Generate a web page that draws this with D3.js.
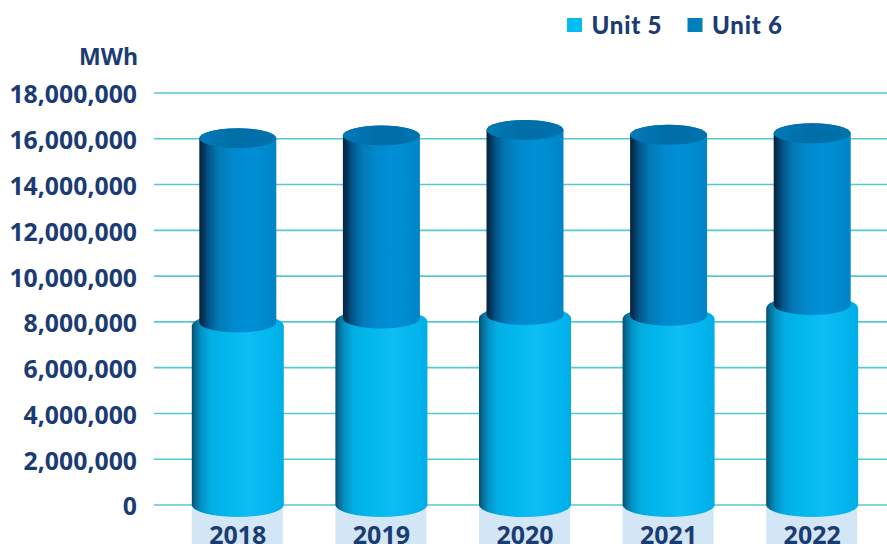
<!DOCTYPE html>
<html>
<head>
<meta charset="utf-8">
<script src="https://cdn.jsdelivr.net/npm/d3@7"></script>
<style>
  html, body { margin: 0; padding: 0; background: #fff; }
  svg { display: block; }
  text { font-family: "Open Sans", sans-serif; font-weight: 700; fill: #1b3c72; }
</style>
</head>
<body>
<div id="chart"></div>
<script>
// Annual generation by unit, in MWh
const years = ["2018", "2019", "2020", "2021", "2022"];
const unit5 = [7950000, 8130000, 8280000, 8250000, 8720000];
const unit6 = [8050000, 7990000, 8080000, 7900000, 7500000];
const yTicks = [0, 2000000, 4000000, 6000000, 8000000, 10000000, 12000000, 14000000, 16000000, 18000000];
const seriesNames = ["Unit 5", "Unit 6"];
const seriesColors = ["#00bcf2", "#0080bd"];

const width = 887, height = 544;
const svg = d3.select("#chart").append("svg").attr("width", width).attr("height", height);

const x = d3.scaleBand().domain(years).range([166, 884]);
const y = d3.scaleLinear().domain([0, 18000000]).range([504.5, 92.5]);

// Horizontal shading that gives each drum its rounded look
const defs = svg.append("defs");
function shade(id, stops) {
  const g = defs.append("linearGradient").attr("id", id).attr("x1", 0).attr("x2", 1).attr("y1", 0).attr("y2", 0);
  stops.forEach(([o, c]) => g.append("stop").attr("offset", o).attr("stop-color", c));
}
shade("side5", [[0, "#0b4a68"], [0.03, "#05688f"], [0.1, "#0491c4"], [0.2, "#02aee3"], [0.35, "#00b6ec"], [0.62, "#0dbdf3"], [0.85, "#03b6ee"], [1, "#00aee6"]]);
shade("side6", [[0, "#06243f"], [0.04, "#052f52"], [0.12, "#04568a"], [0.25, "#0379b5"], [0.45, "#008ad0"], [0.7, "#008fd5"], [1, "#0084c6"]]);
shade("cap6", [[0, "#007ab8"], [0.5, "#006da6"], [1, "#0073ae"]]);

// Radii of the elliptical ends, and how far the lower drum's top sits below the stack line
const rx5 = 46, ry5 = 12, rx6 = 38.5, ry6 = 10, shoulder = 3;

function drumPath(cx, yTop, yBase, rx, ry) {
  return `M${cx - rx},${yTop}V${yBase}A${rx},${ry} 0 0 0 ${cx + rx},${yBase}V${yTop}A${rx},${ry} 0 0 0 ${cx - rx},${yTop}Z`;
}

// Pale bands behind the year labels
svg.append("g").selectAll("rect").data(years).join("rect")
  .attr("x", d => x(d) + x.bandwidth() / 2 - 46)
  .attr("y", y(0))
  .attr("width", 91)
  .attr("height", height - y(0))
  .attr("fill", "#d3e6f6");

// Gridlines and value labels come from the axis generator
const axis = d3.axisLeft(y).tickValues(yTicks).tickSize(-(887 - 154)).tickFormat(d3.format(","));
const axisG = svg.append("g").attr("transform", "translate(154,0)").call(axis);
axisG.select(".domain").remove();
axisG.selectAll(".tick line").attr("stroke", "#55c9cf").attr("stroke-width", 1.6);
axisG.selectAll(".tick text").attr("x", -17).attr("y", 2).attr("dy", "0.34em").attr("font-size", 24.8).attr("text-anchor", "end")
  .style("font-family", '"Open Sans", sans-serif');

svg.append("text").attr("x", 138).attr("y", 65).attr("text-anchor", "end").attr("font-size", 23).text("MWh");

// Cylinders: the lower drum shows only its lit side, the upper one also has a darker top
const bars = svg.append("g").selectAll("g").data(years).join("g");
bars.each(function (yr, i) {
  const g = d3.select(this);
  const cx = x(yr) + x.bandwidth() / 2;
  const y0 = y(0) + 0.5;
  const y5 = y(unit5[i]);
  const y6 = y(unit5[i] + unit6[i]);
  g.append("path").attr("d", drumPath(cx, y5 + shoulder, y0, rx5, ry5)).attr("fill", "url(#side5)");
  g.append("path").attr("d", drumPath(cx, y6, y5, rx6, ry6)).attr("fill", "url(#side6)");
  g.append("ellipse").attr("cx", cx).attr("cy", y6).attr("rx", rx6).attr("ry", ry6).attr("fill", "url(#cap6)");
});

// Year labels
svg.append("g").selectAll("text").data(years).join("text")
  .attr("x", d => x(d) + x.bandwidth() / 2)
  .attr("y", 543.5)
  .attr("text-anchor", "middle")
  .attr("font-size", 25)
  .text(d => d);

// Legend
const legendX = [567, 687.5];
const legend = svg.append("g").selectAll("g").data(seriesNames).join("g")
  .attr("transform", (d, i) => `translate(${legendX[i]},18)`);
legend.append("rect").attr("width", 15).attr("height", 14).attr("fill", (d, i) => seriesColors[i]);
legend.append("text").attr("x", 24.5).attr("y", 16).attr("font-size", 24)
  .style("font-family", "Lato, sans-serif").style("font-weight", 900).style("letter-spacing", "0.8px").text(d => d);
</script>
</body>
</html>
